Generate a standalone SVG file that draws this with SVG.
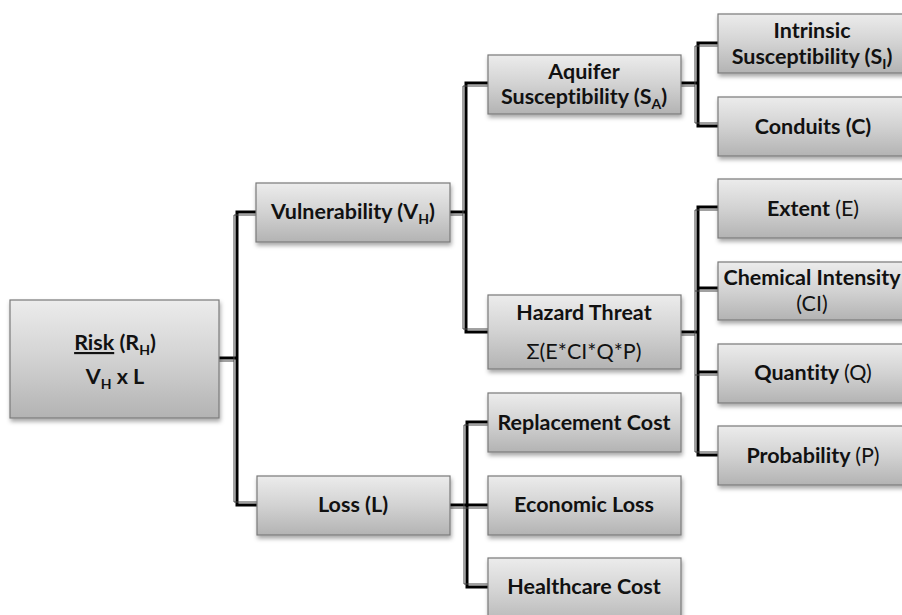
<svg xmlns="http://www.w3.org/2000/svg" width="902" height="615" viewBox="0 0 902 615">
<defs>
<linearGradient id="g" x1="0" y1="0" x2="0" y2="1">
<stop offset="0" stop-color="#ececec"/>
<stop offset="0.5" stop-color="#d2d2d2"/>
<stop offset="1" stop-color="#b3b3b3"/>
</linearGradient>
<filter id="sh" x="-10%" y="-10%" width="120%" height="130%">
<feDropShadow dx="1" dy="3" stdDeviation="2" flood-color="#000" flood-opacity="0.35"/>
</filter>
</defs>
<style>
.box{fill:url(#g);stroke:#7a7a7a;stroke-width:1.2;filter:url(#sh)}
text{font-family:Lato,"Open Sans","Liberation Sans",sans-serif;font-size:21.5px;font-weight:bold;fill:#111;text-anchor:middle;font-variant-ligatures:none}
.r{font-weight:normal}
.sub{font-size:14px}
.c1{fill:none;stroke:#000;stroke-width:3}
.c2{fill:none;stroke:#444;stroke-width:1}
</style>
<rect width="902" height="615" fill="#fff"/>
<g id="connectors">
<path class="c1" d="M219 358 H237 M256 212 H237 V505 H257"/>
<path class="c2" d="M219 361 H234 M256 215 H234 V502 H257"/>
<path class="c1" d="M450 212 H466 M488 83 H466 V332 H488"/>
<path class="c2" d="M450 215 H463 M488 86 H463 V329 H488"/>
<path class="c1" d="M681 83 H698 M718 43 H698 V126 H718"/>
<path class="c2" d="M681 86 H695 M718 46 H695 V123 H718"/>
<path class="c1" d="M681 332 H698 M718 207 H698 V455 H718 M698 288 H718 M698 372 H718"/>
<path class="c2" d="M681 335 H695 M718 210 H695 V452 H718 M695 291 H718 M695 375 H718"/>
<path class="c1" d="M450 505 H488 M488 422 H467 V587 H488"/>
<path class="c2" d="M450 508 H488 M488 425 H464 V584 H488"/>
</g>
<g id="risk"><rect class="box" x="10" y="300" width="209" height="118"/>
<text x="115" y="350" font-size="24"><tspan text-decoration="underline">Risk</tspan> (R<tspan class="sub" dy="5">H</tspan><tspan dy="-5">)</tspan></text>
<text x="115" y="384">V<tspan class="sub" dy="5">H</tspan><tspan dy="-5"> x L</tspan></text></g>
<g id="vulnerability"><rect class="box" x="256" y="183" width="194" height="59"/>
<text x="353" y="219">Vulnerability (V<tspan class="sub" dy="5">H</tspan><tspan dy="-5">)</tspan></text></g>
<g id="loss"><rect class="box" x="257" y="476" width="193" height="59"/>
<text x="353" y="512">Loss (L)</text></g>
<g id="aquifer"><rect class="box" x="488" y="55" width="193" height="59"/>
<text x="584" y="79">Aquifer</text>
<text x="584" y="104">Susceptibility (S<tspan class="sub" dy="5">A</tspan><tspan dy="-5">)</tspan></text></g>
<g id="hazard"><rect class="box" x="488" y="295" width="193" height="74"/>
<text x="584" y="320">Hazard Threat</text>
<text x="584" y="359" class="r">Σ(E*CI*Q*P)</text></g>
<g id="replacement"><rect class="box" x="488" y="393" width="193" height="59"/>
<text x="584" y="430">Replacement Cost</text></g>
<g id="economic"><rect class="box" x="488" y="476" width="193" height="59"/>
<text x="584" y="512">Economic Loss</text></g>
<g id="healthcare"><rect class="box" x="488" y="558" width="193" height="70"/>
<text x="584" y="594">Healthcare Cost</text></g>
<g id="intrinsic"><rect class="box" x="718" y="14" width="200" height="59"/>
<text x="812" y="38">Intrinsic</text>
<text x="812" y="64">Susceptibility (S<tspan class="sub" dy="5">I</tspan><tspan dy="-5">)</tspan></text></g>
<g id="conduits"><rect class="box" x="718" y="97" width="200" height="59"/>
<text x="813" y="134">Conduits (C)</text></g>
<g id="extent"><rect class="box" x="718" y="179" width="200" height="59"/>
<text x="813" y="216">Extent <tspan class="r">(E)</tspan></text></g>
<g id="chemical"><rect class="box" x="718" y="262" width="200" height="58"/>
<text x="812" y="285">Chemical Intensity</text>
<text x="812" y="311" class="r">(CI)</text></g>
<g id="quantity"><rect class="box" x="718" y="344" width="200" height="59"/>
<text x="813" y="380">Quantity <tspan class="r">(Q)</tspan></text></g>
<g id="probability"><rect class="box" x="718" y="426" width="200" height="59"/>
<text x="813" y="463">Probability <tspan class="r">(P)</tspan></text></g>
</svg>
